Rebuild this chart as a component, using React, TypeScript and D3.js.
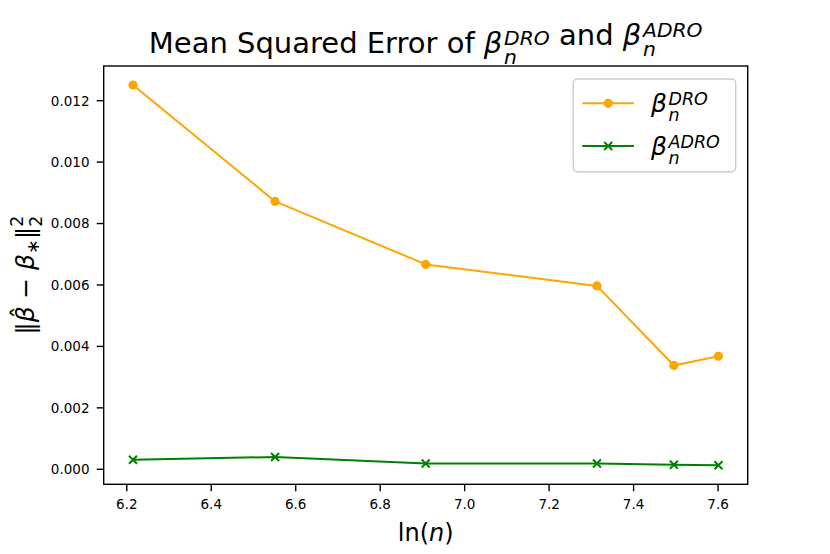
import React from "react";
import * as d3 from "d3";

const lnN = [6.2146, 6.5511, 6.9078, 7.3132, 7.4955, 7.6009];
const mseDRO = [0.01251, 0.00872, 0.00667, 0.00597, 0.00338, 0.00368];
const mseADRO = [0.00031, 0.0004, 0.00019, 0.00019, 0.00015, 0.00013];
const xTicks = [6.2, 6.4, 6.6, 6.8, 7.0, 7.2, 7.4, 7.6];
const yTicks = [0, 0.002, 0.004, 0.006, 0.008, 0.01, 0.012];

const W = 830;
const H = 554;
const L = 103.7, R = 747.7, T = 66, B = 484.3;
const FONT = "'DejaVu Sans', sans-serif";
const ORANGE = "#ffa500";
const GREEN = "#008000";

function padded(vals: number[]): [number, number] {
  const mn = d3.min(vals)!;
  const mx = d3.max(vals)!;
  const m = (mx - mn) * 0.05;
  return [mn - m, mx + m];
}

export default function App() {
  const x = d3.scaleLinear().domain(padded(lnN)).range([L, R]);
  const y = d3.scaleLinear().domain(padded([...mseDRO, ...mseADRO])).range([B, T]);
  const line = d3
    .line<number>()
    .x((_, i) => x(lnN[i]))
    .y((d) => y(d));

  const tf = 29;
  const ts = tf * 0.7;
  const lf = 25;
  const ls = lf * 0.7;
  const nW = (s: number) => 0.634 * s;

  const scriptBeta = (f: number, s: number, sup: string) => {
    const rise = 0.26 * f;
    const drop = 0.38 * f;
    return [
      <tspan key="b" fontStyle="italic">β</tspan>,
      <tspan key="n" fontStyle="italic" fontSize={s} dx={f * 0.06} dy={drop}>n</tspan>,
      <tspan key="s" fontStyle="italic" fontSize={s} dx={-nW(s)} dy={-(drop + rise)}>{sup}</tspan>,
      <tspan key="e" dy={rise}>{""}</tspan>,
    ];
  };

  const legendItems = [
    { sup: "DRO", color: ORANGE, marker: "o" },
    { sup: "ADRO", color: GREEN, marker: "x" },
  ];

  const yf = 25;
  const ys = yf * 0.7;

  return (
    <div style={{ position: "absolute", left: 0, top: 0 }}>
      <svg width={W} height={H} style={{ display: "block", background: "#fff" }} fontFamily={FONT}>
        <rect x={0} y={0} width={W} height={H} fill="#fff" />
        {/* data lines */}
        <path d={line(mseDRO)!} fill="none" stroke={ORANGE} strokeWidth={2} strokeLinejoin="round" />
        {mseDRO.map((v, i) => (
          <circle key={"o" + i} cx={x(lnN[i])} cy={y(v)} r={4.6} fill={ORANGE} />
        ))}
        <path d={line(mseADRO)!} fill="none" stroke={GREEN} strokeWidth={2} strokeLinejoin="round" />
        {mseADRO.map((v, i) => {
          const cx = x(lnN[i]);
          const cy = y(v);
          const s = 4;
          return (
            <path
              key={"x" + i}
              d={`M${cx - s},${cy - s}L${cx + s},${cy + s}M${cx - s},${cy + s}L${cx + s},${cy - s}`}
              stroke={GREEN}
              strokeWidth={2}
            />
          );
        })}
        {/* spines */}
        <rect x={L} y={T} width={R - L} height={B - T} fill="none" stroke="#000" strokeWidth={1.4} />
        {/* x ticks */}
        {xTicks.map((t) => (
          <g key={"xt" + t}>
            <line x1={x(t)} x2={x(t)} y1={B} y2={B + 7} stroke="#000" strokeWidth={1.4} />
            <text x={x(t)} y={508.5} fontSize={13.5} textAnchor="middle" fill="#000">
              {t.toFixed(1)}
            </text>
          </g>
        ))}
        {/* y ticks */}
        {yTicks.map((t) => (
          <g key={"yt" + t}>
            <line x1={L - 7} x2={L} y1={y(t)} y2={y(t)} stroke="#000" strokeWidth={1.4} />
            <text x={89.5} y={y(t)} dy="0.36em" fontSize={13.5} textAnchor="end" fill="#000">
              {t.toFixed(3)}
            </text>
          </g>
        ))}
        {/* x label */}
        <text x={(L + R) / 2} y={541} fontSize={24} textAnchor="middle" fill="#000">
          ln(<tspan fontStyle="italic">n</tspan>)
        </text>
        {/* y label */}
        <text transform={`translate(34,${(T + B) / 2}) rotate(-90)`} fontSize={yf} textAnchor="middle" fill="#000">
          <tspan>‖</tspan>
          <tspan fontStyle="italic">β</tspan>
          <tspan fontSize={yf} dx={-0.5 * yf} dy={-0.2 * yf}>ˆ</tspan>
          <tspan dx={-0.02 * yf} dy={0.2 * yf}> − </tspan>
          <tspan fontStyle="italic">β</tspan>
          <tspan fontSize={ys} dy={0.2 * yf}>∗</tspan>
          <tspan dy={-0.2 * yf}>‖</tspan>
          <tspan fontSize={ys} dy={0.3 * yf}>2</tspan>
          <tspan fontSize={ys} dx={-0.636 * ys} dy={-0.75 * yf}>2</tspan>
        </text>
        {/* title */}
        <text x={(L + R) / 2} y={52.5} fontSize={tf} textAnchor="middle" fill="#000">
          <tspan>Mean Squared Error of </tspan>
          {scriptBeta(tf, ts, "DRO")}
          <tspan> and </tspan>
          {scriptBeta(tf, ts, "ADRO")}
        </text>
        {/* legend */}
        <rect x={573.3} y={79} width={162.4} height={92.7} rx={4} fill="#fff" fillOpacity={0.8} stroke="#cccccc" strokeWidth={1.4} />
        {legendItems.map((it, i) => {
          const cy = 103.3 + i * 42.7;
          return (
            <g key={"lg" + i}>
              <line x1={582.3} x2={634} y1={cy} y2={cy} stroke={it.color} strokeWidth={2} />
              {it.marker === "o" ? (
                <circle cx={608.2} cy={cy} r={4.6} fill={it.color} />
              ) : (
                <path
                  d={`M${608.2 - 4},${cy - 4}L${608.2 + 4},${cy + 4}M${608.2 - 4},${cy + 4}L${608.2 + 4},${cy - 4}`}
                  stroke={it.color}
                  strokeWidth={2}
                />
              )}
              <text x={651} y={cy + 8.5} fontSize={lf} fill="#000">
                {scriptBeta(lf, ls, it.sup)}
              </text>
            </g>
          );
        })}
      </svg>
    </div>
  );
}
